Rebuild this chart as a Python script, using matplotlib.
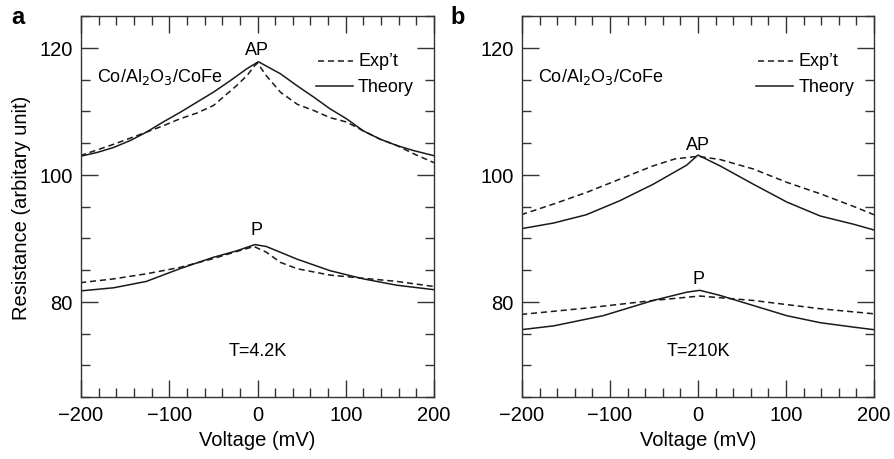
import matplotlib
matplotlib.use("Agg")
import matplotlib.pyplot as plt
from matplotlib.ticker import MultipleLocator

plt.rcParams['font.family'] = ['Liberation Sans', 'DejaVu Sans']

# Panel a (T=4.2K)
v_a_ap_th = [-201, -182, -163, -144, -126, -107, -88, -69, -50, -31, -12, 1, 26, 45, 64, 82, 101, 120, 139, 158, 177, 200]
r_a_ap_th = [102.9, 103.5, 104.3, 105.4, 106.7, 108.3, 109.8, 111.4, 113.0, 114.8, 116.7, 117.8, 115.9, 114.0, 112.2, 110.4, 108.8, 106.9, 105.6, 104.6, 103.8, 103.0]
v_a_ap_ex = [-201, -163, -126, -107, -88, -69, -50, -39, -24, -12, -3, 0, 10, 26, 45, 64, 82, 101, 120, 139, 158, 177, 200]
r_a_ap_ex = [103.0, 104.8, 106.7, 107.7, 108.8, 109.7, 110.9, 112.2, 114.0, 115.6, 117.2, 117.6, 115.6, 113.0, 111.1, 110.1, 109.0, 108.3, 106.9, 105.6, 104.6, 103.3, 101.9]
v_a_p_th = [-201, -163, -126, -88, -50, -24, -3, 10, 45, 82, 120, 158, 200]
r_a_p_th = [81.7, 82.2, 83.2, 85.2, 87.0, 88.0, 89.0, 88.7, 86.7, 84.9, 83.6, 82.6, 81.9]
v_a_p_ex = [-201, -163, -126, -88, -50, -24, -4, 10, 26, 45, 82, 120, 158, 200]
r_a_p_ex = [83.0, 83.6, 84.4, 85.4, 86.8, 87.9, 88.7, 87.8, 86.2, 85.2, 84.2, 83.7, 83.2, 82.4]

# Panel b (T=210K)
v_b_ap_th = [-201, -164, -127, -89, -51, -13, 0, 25, 63, 101, 139, 177, 200]
r_b_ap_th = [91.5, 92.4, 93.7, 95.9, 98.5, 101.5, 103.1, 101.4, 98.5, 95.7, 93.5, 92.2, 91.3]
v_b_ap_ex = [-201, -164, -127, -89, -51, -26, 0, 25, 63, 101, 139, 177, 200]
r_b_ap_ex = [93.7, 95.4, 97.2, 99.3, 101.4, 102.5, 102.9, 102.4, 100.9, 98.8, 97.0, 95.0, 93.7]
v_b_p_th = [-201, -164, -108, -51, -13, 2, 25, 63, 101, 139, 177, 200]
r_b_p_th = [75.6, 76.2, 77.8, 80.2, 81.5, 81.8, 81.0, 79.4, 77.8, 76.7, 76.0, 75.6]
v_b_p_ex = [-201, -127, -51, 2, 63, 139, 200]
r_b_p_ex = [78.0, 79.0, 80.2, 80.9, 80.2, 78.9, 78.1]

xticks = [-200, -100, 0, 100, 200]
yticks = [80, 100, 120]

fig = plt.figure(figsize=(8.94, 4.6), dpi=100)
ax1 = fig.add_axes([81/894, 62/460, 353/894, 381/460])
ax2 = fig.add_axes([522/894, 62/460, 352/894, 381/460])

col = '#1a1a1a'
dash = (0, (4, 2.5))
for ax in (ax1, ax2):
    ax.set_xlim(-200, 200)
    ax.set_ylim(65, 125)
    ax.set_xticks(xticks)
    ax.set_yticks(yticks)
    ax.set_xticklabels(['\u2212200', '\u2212100', '0', '100', '200'])
    ax.xaxis.set_minor_locator(MultipleLocator(20))
    ax.yaxis.set_minor_locator(MultipleLocator(5))
    ax.tick_params(which='major', direction='in', length=12.5, width=1.0, color='#333333',
                   top=True, right=True, labelsize=14.5, pad=6)
    ax.tick_params(which='minor', direction='in', length=6.5, width=1.0, color='#333333',
                   top=True, right=True)
    for s in ax.spines.values():
        s.set_linewidth(1.0)
        s.set_color('#333333')
    ax.set_xlabel('Voltage (mV)', fontsize=14.5, labelpad=4)

ax1.set_ylabel('Resistance (arbitary unit)', fontsize=14.5, labelpad=6)

lw = 1.1
ax1.plot(v_a_ap_ex, r_a_ap_ex, ls=dash, color=col, lw=lw)
ax1.plot(v_a_ap_th, r_a_ap_th, ls='-', color=col, lw=lw)
ax1.plot(v_a_p_ex, r_a_p_ex, ls=dash, color=col, lw=lw)
ax1.plot(v_a_p_th, r_a_p_th, ls='-', color=col, lw=lw)

ax2.plot(v_b_ap_ex, r_b_ap_ex, ls=dash, color=col, lw=lw)
ax2.plot(v_b_ap_th, r_b_ap_th, ls='-', color=col, lw=lw)
ax2.plot(v_b_p_ex, r_b_p_ex, ls=dash, color=col, lw=lw)
ax2.plot(v_b_p_th, r_b_p_th, ls='-', color=col, lw=lw)

fs = 13
for ax in (ax1, ax2):
    ax.text(0.045, 0.843, 'Co/Al$_2$O$_3$/CoFe', transform=ax.transAxes, fontsize=fs,
            va='center', ha='left')
    # legend
    ax.plot([0.67, 0.77], [0.882, 0.882], transform=ax.transAxes, ls=dash,
            color=col, lw=lw)
    ax.plot([0.665, 0.77], [0.816, 0.816], transform=ax.transAxes, ls='-', color=col, lw=lw)
    ax.text(0.785, 0.882, "Exp\u2019t", transform=ax.transAxes, fontsize=fs, va='center')
    ax.text(0.785, 0.816, 'Theory', transform=ax.transAxes, fontsize=fs, va='center')

ax1.text(-1, 118.4, 'AP', fontsize=fs, ha='center', va='bottom')
ax1.text(-1, 90.0, 'P', fontsize=fs, ha='center', va='bottom')
ax1.text(0, 72.3, 'T=4.2K', fontsize=fs, ha='center', va='center')
ax2.text(0, 103.5, 'AP', fontsize=fs, ha='center', va='bottom')
ax2.text(0, 82.3, 'P', fontsize=fs, ha='center', va='bottom')
ax2.text(0, 72.3, 'T=210K', fontsize=fs, ha='center', va='center')

fig.text(11/894, 1 - 17/460, 'a', fontsize=17, fontweight='bold', ha='left', va='center')
fig.text(450/894, 1 - 17/460, 'b', fontsize=17, fontweight='bold', ha='left', va='center')

fig.savefig('out.png', dpi=100)
